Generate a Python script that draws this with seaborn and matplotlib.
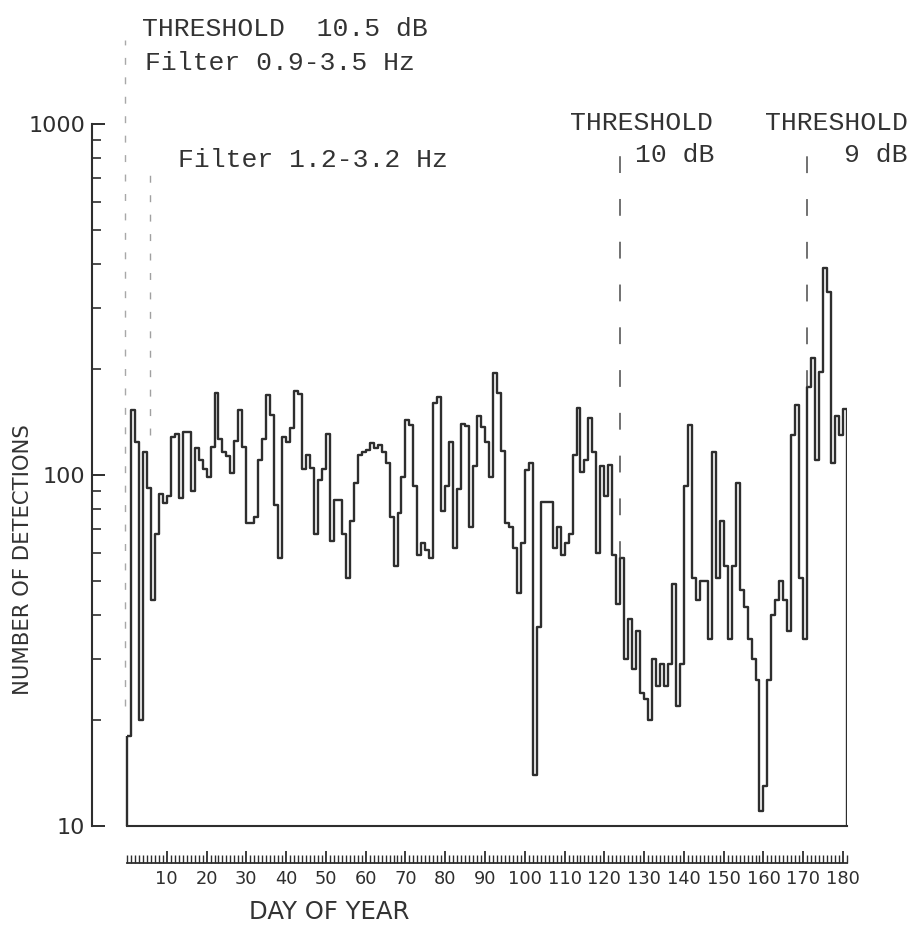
import numpy as np
import pandas as pd
import seaborn as sns
import matplotlib.pyplot as plt
from matplotlib import font_manager
from matplotlib.ticker import FixedLocator, FixedFormatter, LogLocator, MultipleLocator, NullFormatter

# Numero di rivelazioni giornaliere, giorno 1 .. 181
counts = [18, 153, 124, 20, 116, 92, 44, 68, 88, 83,
          87, 128, 131, 86, 133, 133, 90, 119, 110, 104,
          99, 120, 171, 127, 116, 113, 101, 125, 153, 120,
          73, 73, 76, 110, 127, 169, 148, 82, 58, 128,
          124, 136, 173, 170, 104, 114, 105, 68, 97, 104,
          131, 65, 85, 85, 68, 51, 74, 95, 114, 116,
          118, 123, 119, 122, 116, 108, 76, 55, 78, 99,
          143, 139, 93, 59, 64, 61, 58, 160, 167, 79,
          93, 124, 62, 91, 140, 138, 71, 106, 147, 137,
          124, 99, 195, 171, 117, 73, 71, 62, 46, 64,
          103, 108, 14, 37, 84, 84, 84, 62, 71, 59,
          64, 68, 114, 155, 102, 110, 145, 116, 60, 106,
          87, 107, 59, 43, 58, 30, 39, 28, 36, 24,
          23, 20, 30, 25, 29, 25, 29, 49, 22, 29,
          93, 139, 51, 44, 50, 50, 34, 116, 51, 74,
          55, 34, 55, 95, 47, 42, 34, 30, 26, 11,
          13, 26, 40, 44, 50, 44, 36, 130, 158, 51,
          34, 178, 216, 110, 196, 389, 333, 108, 147, 130,
          154]
days = np.arange(1, len(counts) + 1)

# Giorni in cui cambia soglia / filtro (linee tratteggiate)
change_days = [-0.4, 5.8, 124, 171]
change_top = [1735, 764, 827, 827]
change_bottom = [22, 130, 58, 178]
change_color = ['#a8a8a8', '#a0a0a0', '#4a4a4a', '#4a4a4a']

y_ticks = [10, 100, 1000]
y_tick_labels = ['10', '100', '1000']
x_label_days = list(range(10, 181, 10))

W, H = 915, 939
line_color = '#2e2e2e'


def fx(px):
    return px / W


def fy(py):
    return 1 - py / H


sns.set_style('ticks')

# font stretto tipo plotter, se c'e'
installed = {f.name for f in font_manager.fontManager.ttflist}
if 'Liberation Sans Narrow' in installed:
    plot_font, k = 'Liberation Sans Narrow', 1.0
else:
    plot_font, k = 'DejaVu Sans', 0.8
plt.rcParams['font.family'] = [plot_font, 'DejaVu Sans']

fig = plt.figure(figsize=(W / 100, H / 100), dpi=100)
ax = fig.add_axes([fx(92), fy(826), fx(847) - fx(92), fy(124) - fy(826)])

df = pd.DataFrame({'day': days - 0.5, 'count': counts})
sns.histplot(data=df, x='day', weights='count', binwidth=1, binrange=(0, len(counts)),
             element='step', fill=True, color=line_color, facecolor='none',
             edgecolor=line_color, linewidth=1.7, ax=ax)
ax.set_yscale('log')
ax.set_ylim(10, 1000)
ax.set_xlim(-8.8, len(counts))

for s in ['top', 'right']:
    ax.spines[s].set_visible(False)
ax.spines['bottom'].set_bounds(0, len(counts))
for s in ['bottom', 'left']:
    ax.spines[s].set_linewidth(1.5)
    ax.spines[s].set_color(line_color)

ax.tick_params(axis='x', bottom=False, labelbottom=False)
ax.set_xlabel('')
ax.yaxis.set_major_locator(FixedLocator(y_ticks))
ax.yaxis.set_major_formatter(FixedFormatter(y_tick_labels))
ax.yaxis.set_minor_locator(LogLocator(base=10, subs=np.arange(2, 10)))
ax.yaxis.set_minor_formatter(NullFormatter())
ax.tick_params(axis='y', which='major', direction='in', length=9.5, width=1.4,
               labelsize=20 * k, pad=5, colors=line_color)
ax.tick_params(axis='y', which='minor', direction='in', length=6.5, width=1.2, colors=line_color)
ax.set_ylabel('NUMBER OF DETECTIONS', fontsize=19 * k, color='#333333', va='center', ha='center')
ax.yaxis.set_label_coords((23 - 92) / 755, (826 - 560) / 702)

# Linee tratteggiate dei cambi di soglia
for i in range(len(change_days)):
    if i < 2:
        ls, lw = (0, (5, 9)), 1.0
    else:
        ls, lw = (0, (11, 17)), 1.1
    ax.vlines(change_days[i], change_bottom[i], change_top[i], colors=change_color[i],
              linestyles=ls, linewidth=lw, clip_on=False)

# Righello dei giorni
rax = fig.add_axes([fx(127), fy(863), fx(847) - fx(127), fy(851) - fy(863)])
rax.set_xlim(0, len(counts))
rax.set_ylim(0, 1)
rax.set_yticks([])
rax.patch.set_alpha(0)
for s in ['top', 'right', 'left']:
    rax.spines[s].set_visible(False)
rax.spines['bottom'].set_linewidth(1.3)
rax.spines['bottom'].set_color(line_color)
rax.xaxis.set_major_locator(FixedLocator(x_label_days))
rax.xaxis.set_minor_locator(MultipleLocator(1))
rax.tick_params(axis='x', which='major', direction='in', length=9, width=1.3,
                labelsize=16 * k, pad=5, colors=line_color)
rax.tick_params(axis='x', which='minor', direction='in', length=5.5, width=1.0, colors=line_color)
rax.set_xlabel('DAY OF YEAR', fontsize=22 * k, color='#333333', va='center')
rax.xaxis.set_label_coords((329 - 127) / 720, (863 - 912) / 12)

# Annotazioni
txt = dict(family='Liberation Mono', fontsize=19, color='#333333', va='baseline', ha='left')
fig.text(fx(142), fy(36), 'THRESHOLD  10.5 dB', **txt)
fig.text(fx(145), fy(70), 'Filter 0.9-3.5 Hz', **txt)
fig.text(fx(178), fy(167), 'Filter 1.2-3.2 Hz', **txt)
fig.text(fx(570), fy(130), 'THRESHOLD', **txt)
fig.text(fx(635), fy(162), '10 dB', **txt)
fig.text(fx(765), fy(130), 'THRESHOLD', **txt)
fig.text(fx(844), fy(162), '9 dB', **txt)

fig.savefig('out.png', dpi=100)
